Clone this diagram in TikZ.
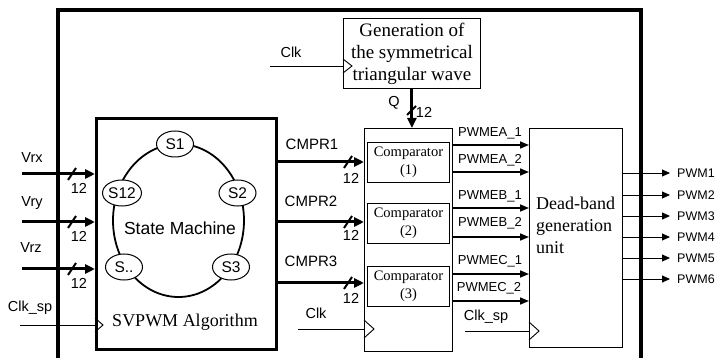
\documentclass[tikz,border=0pt]{standalone}
\usepackage{fontspec}
\setmainfont{Liberation Serif}
\setsansfont{Liberation Sans}
\usetikzlibrary{arrows.meta,shapes.geometric}
\begin{document}
\begin{tikzpicture}[x=1pt,y=-1pt,
  lab/.style={font=\sffamily\fontsize{14.5}{16}\selectfont, inner sep=0pt},
  smlab/.style={font=\sffamily\fontsize{13}{15}\selectfont, inner sep=0pt},
  outlab/.style={font=\sffamily\fontsize{12.5}{14}\selectfont, inner sep=0pt, anchor=west},
  serif/.style={font=\rmfamily\fontsize{18}{22}\selectfont},
  thinbox/.style={draw, line width=0.9pt, inner sep=0pt, anchor=north west},
  thickbox/.style={draw, line width=3pt, inner sep=0pt, anchor=north west},
  bus/.style={line width=3pt, -{Triangle[length=10pt,width=9pt]}},
  midarrow/.style={line width=1.6pt, -{Triangle[length=9pt,width=7pt]}},
  thinarrow/.style={line width=0.9pt, -{Triangle[length=8pt,width=7pt]}},
  slash/.style={line width=2pt},
  clkline/.style={line width=0.9pt},
  stnode/.style={draw, fill=white, ellipse, line width=1pt, inner sep=0pt,
    minimum width=37pt, minimum height=26pt, font=\sffamily\fontsize{15.5}{17}\selectfont},
]
\useasboundingbox (0,0) rectangle (718,358);
% outer frame
\draw[line width=3.2pt] (58,358) -- (58,10) -- (641,10) -- (641,358);

% boxes
\node[thinbox, minimum width=137pt, minimum height=70pt, align=center,
  font=\rmfamily\fontsize{19}{22}\selectfont]
  (gen) at (343,18) {Generation of\\the symmetrical\\triangular wave};
\node[thickbox, minimum width=180pt, minimum height=231pt] (svpwm) at (95,117) {};
\node[thinbox, minimum width=88pt, minimum height=223pt] (comp) at (364,128) {};
\node[thinbox, minimum width=82pt, minimum height=40pt, align=center,
  font=\rmfamily\fontsize{14.5}{18}\selectfont] (c1) at (367,142) {Comparator\\(1)};
\node[thinbox, minimum width=82pt, minimum height=40pt, align=center,
  font=\rmfamily\fontsize{14.5}{18}\selectfont] (c2) at (367,203) {Comparator\\(2)};
\node[thinbox, minimum width=82pt, minimum height=40pt, align=center,
  font=\rmfamily\fontsize{14.5}{18}\selectfont] (c3) at (367,266) {Comparator\\(3)};
\node[thinbox, minimum width=93pt, minimum height=219pt] (db) at (529,128) {};
\node[serif, align=left, anchor=north west, inner sep=0pt] (dbtxt) at (536,197)
  {Dead-band\\generation\\unit};

% state machine
\node[draw, ellipse, line width=1.8pt, minimum width=131pt, minimum height=153pt] (sm) at (178.5,220.5) {};
\node[stnode] (s1) at (175,144) {S1};
\node[stnode] (s12) at (122,193) {S12};
\node[stnode] (s2) at (237.5,193) {S2};
\node[stnode] (sdot) at (124,267) {S..};
\node[stnode] (s3) at (231,267) {S3};
\node[font=\sffamily\fontsize{17.5}{20}\selectfont] (smtxt) at (180,228) {State Machine};
\node[serif] (svtxt) at (185,322) {SVPWM Algorithm};

% inputs
\coordinate (vrx) at (22,174);
\coordinate (vry) at (22,222);
\coordinate (vrz) at (22,269);
\draw[bus] (vrx) -- (vrx -| svpwm.west);
\draw[bus] (vry) -- (vry -| svpwm.west);
\draw[bus] (vrz) -- (vrz -| svpwm.west);
\draw[slash] (68,180) -- (76,168);
\draw[slash] (68,228) -- (76,216);
\draw[slash] (68,275) -- (76,263);
\node[lab] (lvrx) at (32,158) {Vrx};
\node[lab] (lvry) at (32,203) {Vry};
\node[lab] (lvrz) at (31,248) {Vrz};
\node[lab] (n1) at (79,188) {12};
\node[lab] (n2) at (79,236) {12};
\node[lab] (n3) at (79,283) {12};

% Clk_sp to SVPWM
\coordinate (clksp) at (20,325);
\draw[clkline] (clksp) -- (clksp -| svpwm.west);
\draw[clkline] ([yshift=7pt]clksp -| svpwm.west) -- ++(8,7) -- ++(-8,7);
\node[lab] (lclksp) at (30,308) {Clk\_sp};

% CMPR outputs
\coordinate (y1) at (0,162);
\coordinate (y2) at (0,222);
\coordinate (y3) at (0,283);
\draw[bus] (svpwm.east |- y1) -- (comp.west |- y1);
\draw[bus] (svpwm.east |- y2) -- (comp.west |- y2);
\draw[bus] (svpwm.east |- y3) -- (comp.west |- y3);
\draw[slash] (344,168) -- (352,156);
\draw[slash] (344,228) -- (352,216);
\draw[slash] (344,289) -- (352,277);
\node[font=\sffamily\fontsize{15}{17}\selectfont, inner sep=0pt] (lc1) at (312,144) {CMPR1};
\node[font=\sffamily\fontsize{15}{17}\selectfont, inner sep=0pt] (lc2) at (311,201) {CMPR2};
\node[font=\sffamily\fontsize{15}{17}\selectfont, inner sep=0pt] (lc3) at (311,261) {CMPR3};
\node[lab] (m1) at (351,178) {12};
\node[lab] (m2) at (351,235) {12};
\node[lab] (m3) at (351,298) {12};

% Clk to generator
\coordinate (clkg) at (270,66);
\draw[clkline] (clkg) -- (clkg -| gen.west);
\draw[clkline] ([yshift=7pt]clkg -| gen.west) -- ++(9,7) -- ++(-9,7);
\node[lab] (lclkg) at (291,52) {Clk};

% Q
\draw[bus] (gen.south) -- (gen.south |- comp.north);
\draw[slash] (407,115) -- (416,106);
\node[lab] (lq) at (394,103) {Q};
\node[lab] (lq12) at (424,112) {12};

% Clk to comparator
\coordinate (clkc) at (298,329);
\draw[clkline] (clkc) -- (clkc -| comp.west);
\draw[clkline] ([yshift=9pt]clkc -| comp.west) -- ++(10,9) -- ++(-10,9);
\node[lab] (lclkc) at (316,313) {Clk};

% PWME signals
\coordinate (pa1) at (0,145);
\coordinate (pa2) at (0,172);
\coordinate (pb1) at (0,208);
\coordinate (pb2) at (0,237);
\coordinate (pc1) at (0,274);
\coordinate (pc2) at (0,301);
\draw[midarrow] (comp.east |- pa1) -- (db.west |- pa1);
\draw[midarrow] (comp.east |- pa2) -- (db.west |- pa2);
\draw[midarrow] (comp.east |- pb1) -- (db.west |- pb1);
\draw[midarrow] (comp.east |- pb2) -- (db.west |- pb2);
\draw[midarrow] (comp.east |- pc1) -- (db.west |- pc1);
\draw[midarrow] (comp.east |- pc2) -- (db.west |- pc2);
\node[smlab] (la1) at (490,133) {PWMEA\_1};
\node[smlab] (la2) at (490,160) {PWMEA\_2};
\node[smlab] (lb1) at (490,196) {PWMEB\_1};
\node[smlab] (lb2) at (490,223) {PWMEB\_2};
\node[smlab] (lc1b) at (490,261) {PWMEC\_1};
\node[smlab] (lc2b) at (489,288) {PWMEC\_2};

% Clk_sp to dead-band
\coordinate (clkd) at (465,331);
\draw[clkline] (clkd) -- (clkd -| db.west);
\draw[clkline] ([yshift=9pt]clkd -| db.west) -- ++(10,9) -- ++(-10,9);
\node[lab] (lclkd) at (486,317) {Clk\_sp};

% outputs
\coordinate (o1) at (670,173);
\coordinate (o2) at (670,195);
\coordinate (o3) at (670,216);
\coordinate (o4) at (670,237);
\coordinate (o5) at (670,258);
\coordinate (o6) at (670,279);
\draw[thinarrow] (db.east |- o1) -- (o1);
\draw[thinarrow] (db.east |- o2) -- (o2);
\draw[thinarrow] (db.east |- o3) -- (o3);
\draw[thinarrow] (db.east |- o4) -- (o4);
\draw[thinarrow] (db.east |- o5) -- (o5);
\draw[thinarrow] (db.east |- o6) -- (o6);
\node[outlab] (lo1) at ([xshift=7pt]o1) {PWM1};
\node[outlab] (lo2) at ([xshift=7pt]o2) {PWM2};
\node[outlab] (lo3) at ([xshift=7pt]o3) {PWM3};
\node[outlab] (lo4) at ([xshift=7pt]o4) {PWM4};
\node[outlab] (lo5) at ([xshift=7pt]o5) {PWM5};
\node[outlab] (lo6) at ([xshift=7pt]o6) {PWM6};
\end{tikzpicture}
\end{document}
